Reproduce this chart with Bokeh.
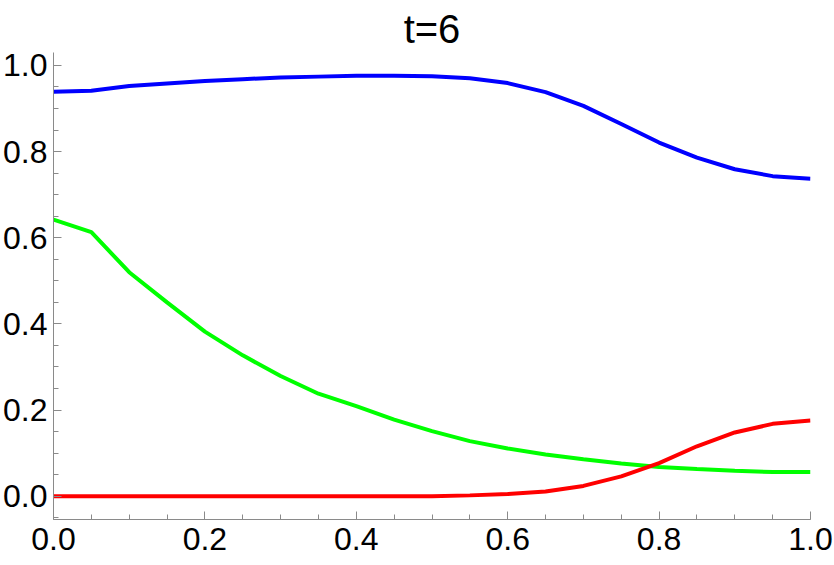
from bokeh.plotting import figure
from bokeh.models import Range1d, SingleIntervalTicker, PrintfTickFormatter
from bokeh.embed import file_html
from bokeh.resources import INLINE

x = [0.0, 0.05, 0.1, 0.15, 0.2, 0.25, 0.3, 0.35, 0.4, 0.45, 0.5,
     0.55, 0.6, 0.65, 0.7, 0.75, 0.8, 0.85, 0.9, 0.95, 1.0]
blue = [0.939, 0.941, 0.952, 0.958, 0.964, 0.968, 0.972, 0.974, 0.976, 0.976, 0.975,
        0.970, 0.959, 0.938, 0.906, 0.864, 0.821, 0.786, 0.759, 0.743, 0.737]
green = [0.642, 0.613, 0.520, 0.450, 0.382, 0.327, 0.279, 0.238, 0.209, 0.178, 0.151,
         0.128, 0.111, 0.097, 0.086, 0.076, 0.068, 0.063, 0.059, 0.056, 0.056]
red = [0.0, 0.0, 0.0, 0.0, 0.0, 0.0, 0.0, 0.0, 0.0, 0.0, 0.0,
       0.002, 0.005, 0.011, 0.024, 0.046, 0.077, 0.116, 0.148, 0.168, 0.176]

FONT = "Liberation Sans"
AX = "#8a8a8a"

p = figure(width=834, height=565, output_backend="svg", toolbar_location=None,
           x_range=Range1d(0, 1.0), y_range=Range1d(-0.054, 1.030),
           min_border_left=52, min_border_right=24, min_border_top=52, min_border_bottom=46,
           title="t=6")
p.outline_line_color = None
p.background_fill_color = "white"
p.border_fill_color = "white"
p.xgrid.visible = False
p.ygrid.visible = False

p.title.text_font = FONT
p.title.text_font_size = "40px"
p.title.text_font_style = "normal"
p.title.text_color = "black"
p.title.align = "center"
p.title.standoff = 4

for ax in (p.xaxis[0], p.yaxis[0]):
    ax.ticker = SingleIntervalTicker(interval=0.2, num_minor_ticks=4)
    ax.formatter = PrintfTickFormatter(format="%.1f")
    ax.axis_line_color = AX
    ax.major_tick_line_color = AX
    ax.minor_tick_line_color = AX
    ax.major_tick_in = 8
    ax.major_tick_out = 0
    ax.minor_tick_in = 5
    ax.minor_tick_out = 0
    ax.major_label_text_font = FONT
    ax.major_label_text_font_size = "32px"
    ax.major_label_text_color = "black"
p.xaxis[0].major_label_standoff = 8
p.yaxis[0].major_label_standoff = 6

p.line(x, blue, line_color="#0000ff", line_width=4)
p.line(x, green, line_color="#00ff00", line_width=4)
p.line(x, red, line_color="#ff0000", line_width=4)

open("out.html", "w").write(file_html(p, INLINE))
